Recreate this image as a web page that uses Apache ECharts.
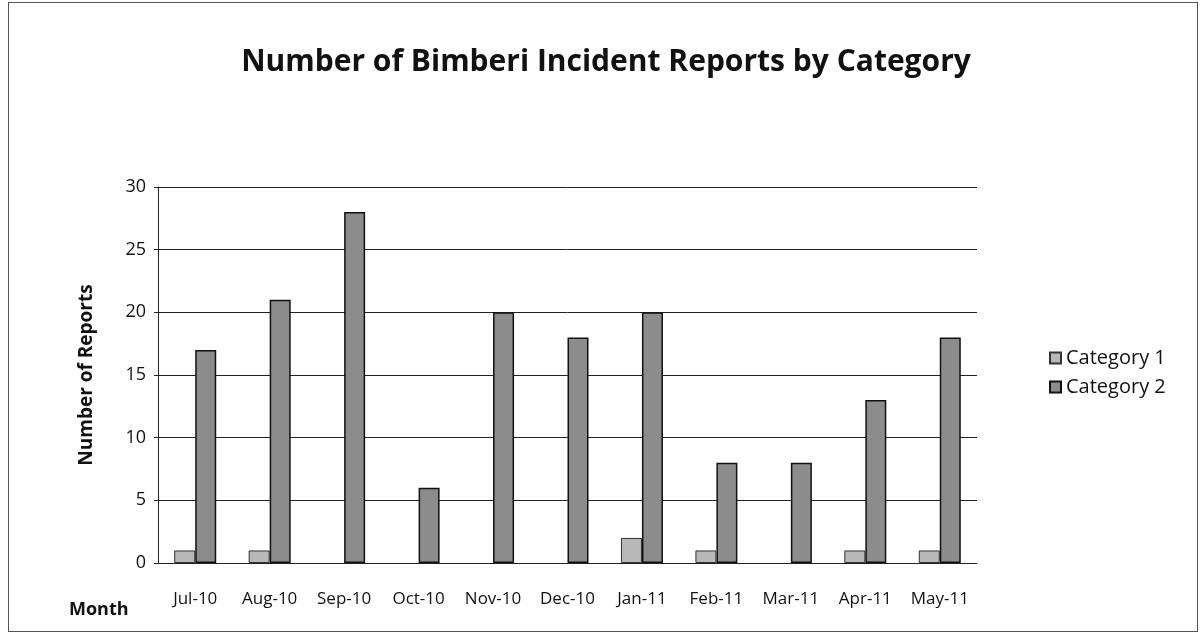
<!DOCTYPE html>
<html>
<head>
<meta charset="utf-8">
<script src="https://cdn.jsdelivr.net/npm/echarts@6/dist/echarts.min.js"></script>
<style>
  html, body { margin: 0; padding: 0; background: #fff; }
  #chart { position: absolute; left: 8px; top: 2px; width: 1190px; height: 630px; border: 1px solid #555; box-sizing: border-box; }
</style>
</head>
<body>
<div id="chart"></div>
<script>
const months = ['Jul-10', 'Aug-10', 'Sep-10', 'Oct-10', 'Nov-10', 'Dec-10', 'Jan-11', 'Feb-11', 'Mar-11', 'Apr-11', 'May-11']
const category1 = [1, 1, 0, 0, 0, 0, 2, 1, 0, 1, 1]
const category2 = [17, 21, 28, 6, 20, 18, 20, 8, 8, 13, 18]
const yTicks = [0, 5, 10, 15, 20, 25, 30]

const font = 'Open Sans'
let chart = echarts.init(document.getElementById('chart'))

// zero values draw nothing in the reference, so drop their outline
const toItems = (arr, border) => arr.map(v => ({
  value: v,
  itemStyle: { borderWidth: v === 0 ? 0 : border }
}))

let option = {
  animation: false,
  textStyle: { fontFamily: font },
  title: {
    text: 'Number of Bimberi Incident Reports by Category',
    left: 592,
    top: 39,
    textAlign: 'center',
    textStyle: { fontSize: 30, fontWeight: 'bold', color: '#111', fontFamily: font }
  },
  legend: {
    orient: 'vertical',
    left: 1035,
    top: 340,
    icon: 'rect',
    itemWidth: 11,
    itemHeight: 11,
    itemGap: 9,
    textStyle: { fontSize: 20, color: '#111' },
    data: ['Category 1', 'Category 2']
  },
  graphic: [
    {
      type: 'text',
      left: 60,
      top: 598,
      style: { text: 'Month', fontSize: 18, fontWeight: 'bold', fill: '#111', fontFamily: font }
    }
  ],
  grid: { left: 149, right: 220, top: 184, bottom: 68 },
  xAxis: {
    type: 'category',
    data: months,
    axisLine: { lineStyle: { color: '#222', width: 1 } },
    axisTick: { show: false },
    axisLabel: { fontSize: 17, color: '#111', margin: 28, interval: 0 }
  },
  yAxis: {
    type: 'value',
    min: 0,
    max: yTicks[yTicks.length - 1],
    interval: yTicks[1] - yTicks[0],
    name: 'Number of Reports',
    nameLocation: 'middle',
    nameGap: 62,
    nameTextStyle: { fontSize: 19, fontWeight: 'bold', color: '#111' },
    axisLine: { show: true, lineStyle: { color: '#222', width: 1 } },
    axisTick: { show: true, length: 4, lineStyle: { color: '#222' } },
    axisLabel: { fontSize: 18, color: '#111', margin: 12 },
    splitLine: { lineStyle: { color: '#222', width: 1 } }
  },
  series: [
    {
      name: 'Category 1',
      type: 'bar',
      data: toItems(category1, 1),
      barWidth: 21,
      barGap: '0%',
      itemStyle: { color: '#b8b8b8', borderColor: '#333', borderWidth: 1 }
    },
    {
      name: 'Category 2',
      type: 'bar',
      data: toItems(category2, 1.5),
      barWidth: 21,
      itemStyle: { color: '#8c8c8c', borderColor: '#111', borderWidth: 1.5 }
    }
  ]
}

chart.setOption(option)
</script>
</body>
</html>
